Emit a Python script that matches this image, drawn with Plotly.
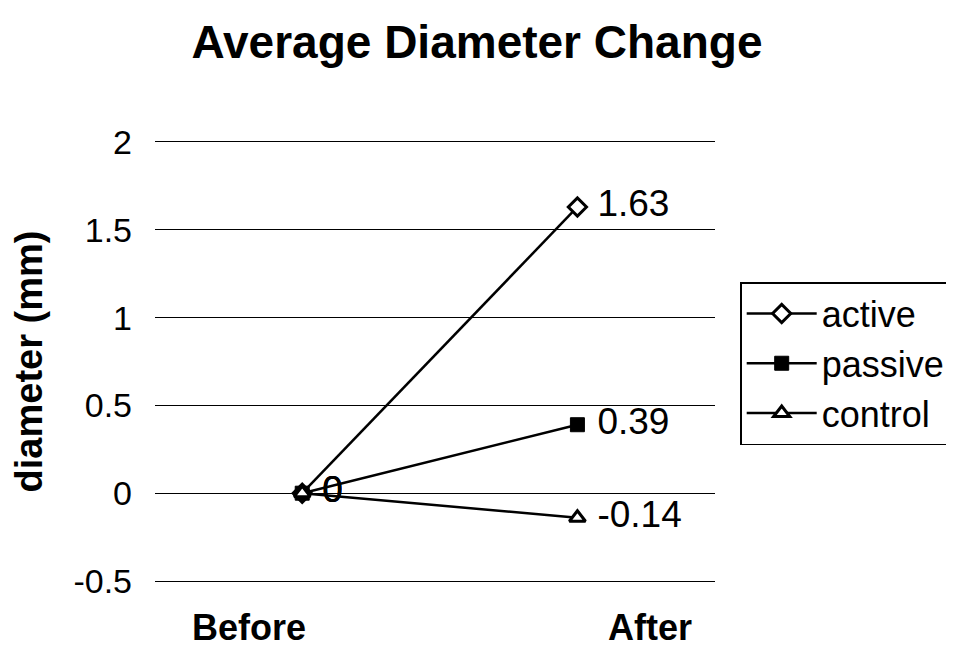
import plotly.graph_objects as go

categories = ["Before", "After"]
series_names = ["active", "passive", "control"]
active = [0, 1.63]
passive = [0, 0.39]
control = [0, -0.14]
label_text = {"active": ["0", "1.63"], "passive": ["0", "0.39"], "control": ["0", "-0.14"]}
yticks = [-0.5, 0, 0.5, 1, 1.5, 2]
ytick_labels = ["-0.5", "0", "0.5", "1", "1.5", "2"]

FONT = "Arial, Liberation Sans, sans-serif"
xpos = [0, 1]

markers = {
    "active": dict(symbol="diamond", size=14, color="white", line=dict(color="black", width=3)),
    "passive": dict(symbol="square", size=14, color="black", line=dict(color="black", width=1)),
    "control": dict(symbol="triangle-up", size=14, color="white", line=dict(color="black", width=3)),
}
values = {"active": active, "passive": passive, "control": control}

fig = go.Figure()
for name in series_names:
    fig.add_trace(go.Scatter(
        x=xpos, y=values[name], name=name, mode="lines+markers+text",
        line=dict(color="black", width=2.5),
        marker=markers[name],
        text=[" " + t for t in label_text[name]], textposition="middle right",
        textfont=dict(family=FONT, size=37, color="black"),
    ))

fig.update_layout(
    width=938, height=643,
    paper_bgcolor="white", plot_bgcolor="white",
    margin=dict(l=147, r=231, t=134, b=70, autoexpand=False),
    title=dict(text="<b>Average Diameter Change</b>", x=0.5, xanchor="center",
               y=0.947, yanchor="middle", font=dict(family=FONT, size=46, color="black")),
    font=dict(family=FONT, color="black"),
    showlegend=True,
    legend=dict(x=1.045, y=0.681, xanchor="left", yanchor="top",
                bordercolor="black", borderwidth=1.5, bgcolor="white",
                font=dict(family=FONT, size=36, color="black"),
                tracegroupgap=0, itemwidth=70),
)
fig.update_xaxes(
    range=[-0.535, 1.5], automargin=False,
    tickvals=[-0.193, 1.264], ticktext=["<b>%s</b>" % c for c in categories],
    tickfont=dict(family=FONT, size=36, color="black"),
    showgrid=False, zeroline=False, showline=True, mirror=True,
    linecolor="black", linewidth=1, ticks="", ticklabelstandoff=15,
)
fig.update_yaxes(
    range=[-0.5, 2], automargin=False, tickvals=yticks, ticktext=ytick_labels,
    tickfont=dict(family=FONT, size=34, color="black"),
    showgrid=True, gridcolor="black", gridwidth=1,
    zeroline=True, zerolinecolor="black", zerolinewidth=1,
    showline=False, ticks="", ticklabelstandoff=22,
    title=dict(text="<b>diameter (mm)</b>", font=dict(family=FONT, size=38, color="black"), standoff=26),
)

fig.write_html("out.html")
